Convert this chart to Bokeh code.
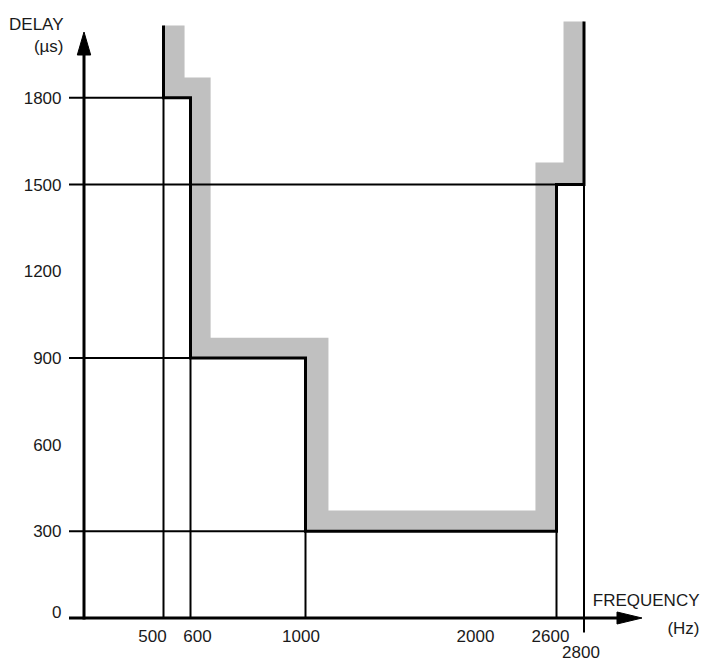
import numpy as np
from bokeh.plotting import figure
from bokeh.models import Range1d, ColumnDataSource
from bokeh.core.properties import value
from bokeh.embed import file_html
from bokeh.resources import INLINE

# ---------------- data ----------------
FREQ_TICKS = [500, 600, 1000, 2000, 2600, 2800]
FREQ_LABELS = ["500", "600", "1000", "2000", "2600", "2800"]
DELAY_TICKS = [0, 300, 600, 900, 1200, 1500, 1800]
DELAY_LABELS = ["0", "300", "600", "900", "1200", "1500", "1800"]

# group-delay limit mask (black step line), Hz / µs
MASK_FREQ = [500, 500, 600, 600, 1000, 1000, 2600, 2600, 2800, 2800]
MASK_DELAY = [2050, 1800, 1800, 900, 900, 300, 300, 1500, 1500, 2064]

# grey tolerance band, outer edge, Hz / µs
BAND_FREQ = [578, 578, 670, 670, 1132, 1132, 2436, 2436, 2651, 2651]
BAND_DELAY = [2050, 1870, 1870, 970, 970, 372, 372, 1576, 1576, 2064]

# reference lines
HLINE_DELAY = [1800, 1500, 900, 300]
HLINE_END_FREQ = [500, 2600, 600, 1000]
VLINE_FREQ = [500, 600, 1000, 2600, 2800]
VLINE_END_DELAY = [1800, 900, 300, 300, 1500]

# ---------------- layout (schematic, non-linear frequency axis) ----------------
W, H = 702, 662
X_KNOT_FREQ = [0, 500, 600, 1000, 2000, 2600, 2800]
X_KNOT_PX = [83.5, 163, 190, 305, 479, 556, 583.5]
Y0_PX = 617.5
PX_PER_US = 520.2 / 1800.0
FONT = "Liberation Sans"
FS = "17px"
TXT = "#1a1a1a"


def fx(f):
    return np.interp(np.asarray(f, dtype=float), X_KNOT_FREQ, X_KNOT_PX)


def dy(px):
    return px / PX_PER_US


def py(cy):
    return (Y0_PX - cy) / PX_PER_US


AXIS_X = X_KNOT_PX[0]

p = figure(width=W, height=H, x_range=Range1d(0, W), y_range=Range1d(py(H), py(0)),
           x_axis_type=None, y_axis_type=None, toolbar_location=None,
           output_backend="svg", min_border=0, outline_line_color=None)
p.background_fill_color = "white"
p.border_fill_color = "white"

# grey band (between outer edge and mask)
band_x = list(fx(BAND_FREQ)) + list(fx(MASK_FREQ[::-1]))
band_y = list(BAND_DELAY) + list(MASK_DELAY[::-1])
p.patch(band_x, band_y, fill_color="#c0c0c0", line_color=None)

# reference lines
p.segment(x0=[AXIS_X - 15] * len(HLINE_DELAY), y0=HLINE_DELAY,
          x1=fx(HLINE_END_FREQ), y1=HLINE_DELAY, line_color="black", line_width=2)
v_start = [0, 0, 0, 0, -dy(14.5)]
p.segment(x0=fx(VLINE_FREQ), y0=v_start, x1=fx(VLINE_FREQ), y1=VLINE_END_DELAY,
          line_color="black", line_width=2)

# mask
p.line(fx(MASK_FREQ), MASK_DELAY, line_color="black", line_width=3, line_join="miter")

# axes with arrows
p.line([AXIS_X, AXIS_X], [-dy(1.5), py(54.5)], line_color="black", line_width=3)
p.line([AXIS_X - 15, 617], [0, 0], line_color="black", line_width=3)
p.patch([AXIS_X - 6.7, AXIS_X, AXIS_X + 6.7], [py(54.5), py(31.5), py(54.5)],
        fill_color="black", line_color="black", line_width=1)
p.patch([616.5, 641.5, 616.5], [dy(6), 0, -dy(6)],
        fill_color="black", line_color="black", line_width=1)

# y tick labels
ysrc = ColumnDataSource(dict(x=[AXIS_X - 22.5] * len(DELAY_TICKS), y=DELAY_TICKS,
                             t=DELAY_LABELS,
                             yo=[-6.5 if v == 0 else 0 for v in DELAY_TICKS]))
p.text(x="x", y="y", text="t", y_offset="yo", source=ysrc, text_font=value(FONT),
       text_font_size=FS, text_color=TXT, text_align="right", text_baseline="middle")

# x tick labels
X_LABEL_DX = [-11, 7, -4.5, -4, -6, -3]
X_LABEL_DY = [18, 18, 18, 18, 18, 34]
xsrc = ColumnDataSource(dict(x=fx(FREQ_TICKS) + np.array(X_LABEL_DX), y=[0] * len(FREQ_TICKS),
                             t=FREQ_LABELS, yo=X_LABEL_DY))
p.text(x="x", y="y", text="t", y_offset="yo", source=xsrc, text_font=value(FONT),
       text_font_size=FS, text_color=TXT, text_align="center", text_baseline="middle")

# axis titles
p.text(x=[63, 63], y=[py(23.5), py(45.5)], text=["DELAY", "(µs)"], text_font=value(FONT),
       text_font_size=FS, text_color=TXT, text_align="right", text_baseline="middle")
p.text(x=[699, 699], y=[py(600), py(627.5)], text=["FREQUENCY", "(Hz)"], text_font=value(FONT),
       text_font_size=FS, text_color=TXT, text_align="right", text_baseline="middle")

open("out.html", "w").write(file_html(p, INLINE))
